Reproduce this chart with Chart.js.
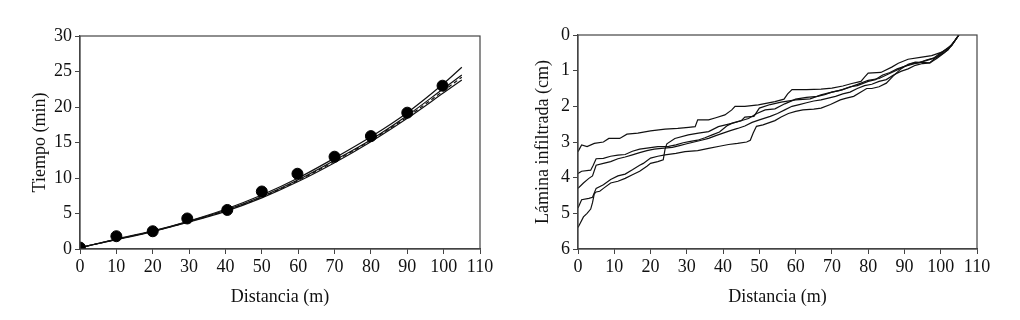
<!DOCTYPE html>
<html>
<head>
<meta charset="utf-8">
<script src="https://cdn.jsdelivr.net/npm/chart.js@4"></script>
<style>
  body { margin: 0; background: #fff; }
  .box { position: absolute; top: 0; width: 510px; height: 320px; }
  #left { left: 0; }
  #right { left: 510px; }
</style>
</head>
<body>
<div class="box" id="left"><canvas id="tiempo-chart" width="510" height="320"></canvas></div>
<div class="box" id="right"><canvas id="lamina-chart" width="510" height="320"></canvas></div>
<script>
// observed advance times (m, min)
const obsDist = [0, 10, 20, 29.5, 40.5, 50, 59.8, 70, 80, 90, 99.7];
const obsTime = [0.2, 1.8, 2.5, 4.3, 5.5, 8.1, 10.6, 13.0, 15.9, 19.2, 23.0];

// fitted advance curves
const curveDist = [0, 10, 20, 30, 40, 50, 60, 70, 80, 90, 100, 105];
const curveTop = [0.2, 1.4, 2.55, 3.95, 5.6, 7.6, 10.0, 12.8, 15.8, 19.2, 23.3, 25.6];
const curveMid = [0.2, 1.35, 2.5, 3.9, 5.45, 7.4, 9.75, 12.5, 15.4, 18.8, 22.6, 24.5];
const curveDash = [0.2, 1.35, 2.5, 3.85, 5.4, 7.3, 9.65, 12.35, 15.3, 18.6, 22.3, 24.2];
const curveLow = [0.2, 1.3, 2.45, 3.8, 5.3, 7.2, 9.5, 12.15, 15.1, 18.4, 22.0, 23.8];

// infiltrated depth profiles (m, cm)
const perfil1 = [[0,3.27],[1,3.08],[2.5,3.13],[4.5,3.04],[7,3.0],[8.5,2.9],[11.5,2.9],[13.5,2.78],[16.5,2.75],[20,2.69],[24,2.64],[27.5,2.62],[30.5,2.59],[32.3,2.57],[33,2.38],[36,2.38],[38,2.32],[40.5,2.24],[42.4,2.1],[43.3,2.0],[46,2.0],[49.7,1.96],[54.3,1.87],[56.8,1.8],[57.8,1.65],[59,1.53],[63,1.53],[67,1.52],[70,1.49],[73,1.43],[75.5,1.36],[78,1.3],[79,1.18],[80,1.07],[83.5,1.05],[86.5,0.9],[88.3,0.79],[91,0.68],[94.8,0.62],[97.5,0.58],[100.3,0.48],[103,0.28],[105,0]];
const perfil2 = [[0,3.88],[1,3.82],[3.5,3.79],[4.2,3.65],[5,3.47],[7,3.46],[9,3.4],[11,3.37],[13,3.35],[15,3.26],[17,3.2],[20,3.16],[22,3.13],[25,3.12],[27,3.08],[29,3.02],[31,2.98],[33,2.95],[35,2.88],[37,2.8],[39,2.72],[41,2.55],[42.5,2.47],[45,2.4],[46,2.3],[48.5,2.28],[50,2.05],[53,1.95],[56,1.88],[60,1.82],[64,1.79],[67,1.68],[70,1.6],[72,1.56],[75,1.46],[78,1.35],[80,1.27],[83,1.22],[85,1.12],[88,0.98],[90,0.88],[93,0.8],[96,0.72],[99,0.62],[102,0.42],[105,0]];
const perfil3 = [[0,4.3],[1.5,4.15],[3,4.02],[4,3.95],[5,3.65],[7,3.6],[9,3.55],[11,3.47],[13,3.42],[15,3.36],[17,3.3],[19,3.24],[21,3.2],[23,3.18],[26,3.15],[28,3.1],[30,3.05],[32,3.0],[34,2.95],[36,2.9],[38,2.82],[40,2.75],[42,2.68],[44,2.62],[46,2.55],[48,2.45],[50,2.38],[53,2.28],[55,2.2],[57,2.1],[59,2.0],[61,1.95],[63,1.9],[65,1.85],[67,1.82],[69,1.77],[71,1.72],[73,1.65],[75,1.6],[77,1.5],[79,1.42],[81,1.38],[83,1.3],[85,1.25],[87,1.12],[89,1.02],[91,0.95],[93,0.85],[95,0.8],[97,0.78],[99,0.65],[101,0.5],[103,0.3],[105,0]];
const perfil4 = [[0,4.85],[1,4.62],[3,4.58],[4,4.55],[5,4.3],[7,4.2],[9,4.05],[11,3.95],[13,3.9],[15,3.78],[17,3.65],[18,3.6],[20,3.45],[22,3.4],[24,3.36],[27,3.32],[29.5,3.27],[33,3.24],[36,3.18],[39,3.12],[41.5,3.07],[44,3.04],[46.5,3.0],[47.5,2.95],[48.3,2.75],[49.2,2.56],[51,2.52],[54.3,2.4],[56,2.3],[58,2.2],[60,2.14],[62,2.1],[65,2.08],[67,2.05],[69.6,1.95],[72.3,1.82],[74,1.77],[76,1.72],[78,1.6],[79.6,1.5],[81,1.5],[83,1.45],[85,1.35],[86.8,1.16],[88.8,0.97],[91,0.82],[93,0.76],[97,0.78],[99,0.6],[101,0.45],[103,0.3],[105,0]];
const perfil5 = [[0,5.4],[0.5,5.3],[1.5,5.1],[2.5,5.0],[3.5,4.88],[4,4.7],[4.5,4.45],[5,4.4],[6,4.38],[7,4.3],[9,4.15],[11,4.1],[13,4.02],[15,3.92],[17,3.82],[19,3.68],[20,3.6],[22,3.55],[23.5,3.5],[24,3.2],[24.5,3.05],[26.7,2.9],[30.4,2.8],[33.2,2.75],[36,2.71],[38.7,2.57],[42.4,2.48],[47,2.34],[49.3,2.2],[51.6,2.1],[54.3,2.07],[57,1.93],[60,1.8],[63,1.75],[66,1.72],[68,1.67],[70,1.6],[73,1.53],[75,1.45],[77,1.42],[80,1.3],[82,1.25],[84,1.12],[86,1.05],[88,0.95],[90,0.88],[92,0.8],[94,0.78],[96,0.7],[98,0.65],[100,0.5],[102,0.38],[104,0.15],[105,0]];

const fontFam = '"Liberation Serif", "DejaVu Serif", serif';
const tickFont = { family: fontFam, size: 18 };
const titleFont = { family: fontFam, size: 18 };

// box around the plot area
const framePlugin = {
  id: 'frame',
  afterDraw(chart) {
    const { ctx, chartArea: a } = chart;
    ctx.save();
    ctx.strokeStyle = '#444';
    ctx.lineWidth = 1.2;
    ctx.strokeRect(a.left, a.top, a.right - a.left, a.bottom - a.top);
    ctx.restore();
  }
};

function toXY(xs, ys) {
  return xs.map((x, i) => ({ x: x, y: ys[i] }));
}
function pairs(p) {
  return p.map(d => ({ x: d[0], y: d[1] }));
}

function axisX(titlePad) {
  return {
    type: 'linear', min: 0, max: 110,
    ticks: { stepSize: 10, color: '#111', font: tickFont, padding: 2, maxRotation: 0 },
    grid: { drawOnChartArea: false, tickLength: 5, color: '#444' },
    border: { color: '#444', width: 1.2 },
    title: { display: true, text: 'Distancia (m)', color: '#111', font: titleFont, padding: { bottom: titlePad } },
    afterFit: s => { s.height = 71; }
  };
}

function lineSet(data, dash) {
  return {
    data: data, showLine: true, borderColor: '#111', borderWidth: 1.2,
    borderDash: dash || [], pointRadius: 0, fill: false
  };
}

new Chart(document.querySelector('#tiempo-chart').getContext('2d'), {
  type: 'scatter',
  data: {
    datasets: [
      { data: toXY(obsDist, obsTime), backgroundColor: '#000', borderColor: '#000', pointRadius: 5.5, showLine: false },
      Object.assign(lineSet(toXY(curveDist, curveTop)), { cubicInterpolationMode: 'monotone' }),
      Object.assign(lineSet(toXY(curveDist, curveMid)), { cubicInterpolationMode: 'monotone' }),
      Object.assign(lineSet(toXY(curveDist, curveDash), [4, 3]), { cubicInterpolationMode: 'monotone' }),
      Object.assign(lineSet(toXY(curveDist, curveLow)), { cubicInterpolationMode: 'monotone' })
    ]
  },
  options: {
    responsive: false,
    animation: false,
    layout: { padding: { left: 0, right: 30, top: 36, bottom: 0 } },
    plugins: { legend: { display: false }, tooltip: { enabled: false } },
    scales: {
      x: axisX(12),
      y: {
        type: 'linear', min: 0, max: 30,
        ticks: { stepSize: 5, color: '#111', font: tickFont, padding: 3 },
        grid: { drawOnChartArea: false, tickLength: 5, color: '#444' },
        border: { color: '#444', width: 1.2 },
        title: { display: true, text: 'Tiempo (min)', color: '#111', font: titleFont, padding: { top: 29 } },
        afterFit: s => { s.width = 80; }
      }
    }
  },
  plugins: [framePlugin]
});

new Chart(document.querySelector('#lamina-chart').getContext('2d'), {
  type: 'scatter',
  data: {
    datasets: [perfil1, perfil2, perfil3, perfil4, perfil5].map(p => lineSet(pairs(p)))
  },
  options: {
    responsive: false,
    animation: false,
    layout: { padding: { left: 0, right: 43, top: 35, bottom: 0 } },
    plugins: { legend: { display: false }, tooltip: { enabled: false } },
    scales: {
      x: axisX(12),
      y: {
        type: 'linear', min: 0, max: 6, reverse: true,
        ticks: { stepSize: 1, color: '#111', font: tickFont, padding: 3 },
        grid: { drawOnChartArea: false, tickLength: 5, color: '#444' },
        border: { color: '#444', width: 1.2 },
        title: { display: true, text: 'Lámina infiltrada (cm)', color: '#111', font: titleFont, padding: { top: 22 } },
        afterFit: s => { s.width = 68; }
      }
    }
  },
  plugins: [framePlugin]
});
</script>
</body>
</html>
